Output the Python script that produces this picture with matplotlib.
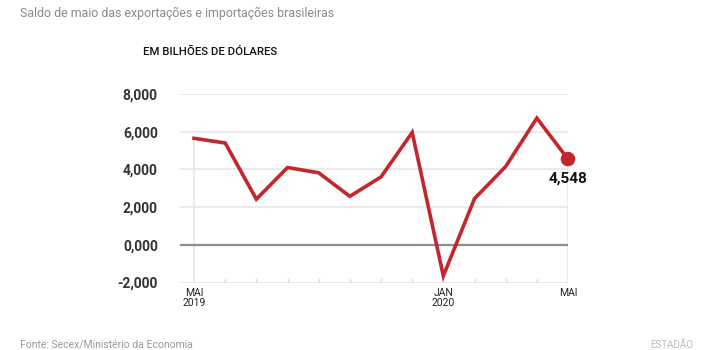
import matplotlib
matplotlib.use("Agg")
import matplotlib.pyplot as plt

# Monthly trade balance, May 2019 - May 2020 (US$ billions)
months = ["MAI\n2019", "JUN", "JUL", "AGO", "SET", "OUT", "NOV", "DEZ",
          "JAN\n2020", "FEV", "MAR", "ABR", "MAI"]
saldo = [5.65, 5.40, 2.42, 4.10, 3.82, 2.57, 3.60, 5.96,
         -1.65, 2.45, 4.15, 6.72, 4.548]
shown_ticks = {0: "MAI\n2019", 8: "JAN\n2020", 12: "MAI"}
y_ticks = [-2, 0, 2, 4, 6, 8]

RED = "#c1272d"
GRID = "#e6e6e6"
FONT = "Roboto"


def br(v):
    """Three-decimal number with a comma as decimal separator."""
    return f"{v:.3f}".replace(".", ",")


fig = plt.figure(figsize=(7.13, 3.5), dpi=100)
ax = fig.add_axes([180 / 713, 1 - 282.5 / 350, (568 - 180) / 713, (282.5 - 94) / 350])

x = list(range(len(saldo)))
ax.set_xlim(-0.45, len(saldo) - 1)
ax.set_ylim(min(y_ticks), max(y_ticks))

# horizontal grid
for v in y_ticks:
    if v == 0:
        ax.axhline(v, color="#8c8c8c", lw=1.6, zorder=2)
    else:
        ax.axhline(v, color=GRID, lw=1.2, zorder=1)

# vertical guides at the first and last month
ax.plot([x[0], x[0]], [min(y_ticks), saldo[0]], color=GRID, lw=1.1, zorder=1)
ax.plot([x[-1], x[-1]], [min(y_ticks), saldo[-1] - 0.5], color=GRID, lw=1.1, zorder=1)

# small month ticks pointing up from the bottom gridline
for xi in x[1:-1]:
    ax.plot([xi, xi], [min(y_ticks), min(y_ticks) + 0.2], color="#dddddd", lw=1.0, zorder=1)

ax.plot(x, saldo, color=RED, lw=2.6, solid_joinstyle="miter", zorder=3, clip_on=False)
ax.scatter([x[-1]], [saldo[-1]], s=110, color=RED, zorder=4, clip_on=False, edgecolors="none")
ax.annotate(br(saldo[-1]), xy=(x[-1], saldo[-1]), xytext=(0, -9),
            textcoords="offset points", ha="center", va="top",
            fontsize=11, fontweight="bold", color="#111111", family=FONT)

for s in ax.spines.values():
    s.set_visible(False)
ax.tick_params(length=0)
ax.set_yticks(y_ticks)
ax.set_yticklabels([br(v) for v in y_ticks], fontsize=10, fontweight="bold",
                   color="#333333", family=FONT)
ax.tick_params(axis="y", pad=16)
ax.set_xticks(list(shown_ticks.keys()))
ax.set_xticklabels(list(shown_ticks.values()), fontsize=7.5, color="#222222",
                   family=FONT, linespacing=1.0)
ax.tick_params(axis="x", pad=4)

fig.text(20 / 713, 1 - 13 / 350, "Saldo de maio das exportações e importações brasileiras",
         fontsize=8.9, color="#8a8a8a", family=FONT, va="center", ha="left")
fig.text(143 / 713, 1 - 52 / 350, "EM BILHÕES DE DÓLARES",
         fontsize=8.2, color="#111111", family=FONT, fontweight="medium", va="center", ha="left")
fig.text(20 / 713, 1 - 345 / 350, "Fonte: Secex/Ministério da Economia",
         fontsize=7.5, color="#9a9a9a", family=FONT, va="center", ha="left")
fig.text(650 / 713, 1 - 345 / 350, "ESTADÃO",
         fontsize=7, color="#bbbbbb", family=FONT, va="center", ha="left")

fig.savefig("out.png", dpi=100)
